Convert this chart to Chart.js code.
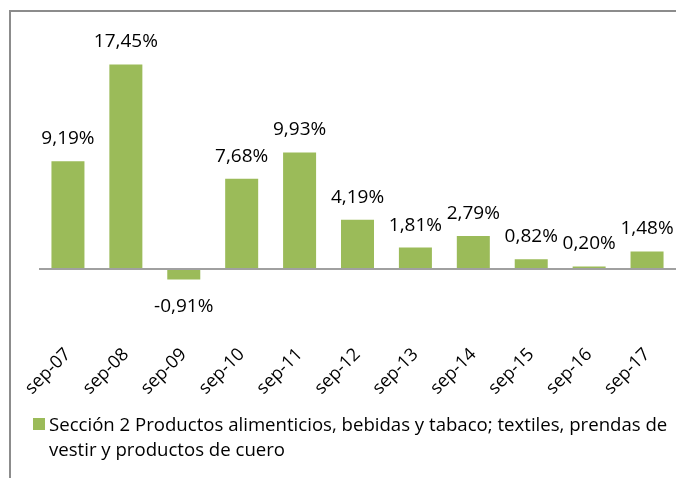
<!DOCTYPE html>
<html>
<head>
<meta charset="utf-8">
<script src="https://cdn.jsdelivr.net/npm/chart.js@4"></script>
<style>
  html, body { margin: 0; padding: 0; background: #fff; }
  #wrap { width: 676px; height: 478px; position: relative; }
</style>
</head>
<body>
<div id="wrap"><canvas id="chart"></canvas></div>
<script>
const categories = ["sep-07", "sep-08", "sep-09", "sep-10", "sep-11", "sep-12", "sep-13", "sep-14", "sep-15", "sep-16", "sep-17"];
const values = [9.19, 17.45, -0.91, 7.68, 9.93, 4.19, 1.81, 2.79, 0.82, 0.20, 1.48];
const legendLines = [
  "Sección 2 Productos alimenticios, bebidas y tabaco; textiles, prendas de",
  "vestir y productos de cuero"
];

const green = "#9bbb59";
const fontFamily = "'Open Sans', sans-serif";

// etiquetas, línea de cero, leyenda y marco
const extras = {
  id: "extras",
  afterDraw(chart) {
    const ctx = chart.ctx;
    const y = chart.scales.y;
    const area = chart.chartArea;

    // marco gris
    ctx.save();
    ctx.fillStyle = "#8c8c8c";
    ctx.fillRect(9, 10, 2, 468);
    ctx.fillRect(9, 10, 667, 2);

    // línea de cero
    const y0 = Math.round(y.getPixelForValue(0));
    ctx.fillStyle = "#a0a0a0";
    ctx.fillRect(area.left, y0 - 1, area.right - area.left, 2);

    // etiquetas de datos
    ctx.fillStyle = "#000";
    ctx.font = "19px " + fontFamily;
    ctx.textAlign = "center";
    ctx.textBaseline = "alphabetic";
    chart.getDatasetMeta(0).data.forEach((bar, i) => {
      const v = values[i];
      const txt = v.toFixed(2).replace(".", ",") + "%";
      if (v >= 0) ctx.fillText(txt, bar.x, bar.y - 17);
      else ctx.fillText(txt, bar.x, bar.y + 33);
    });

    // leyenda
    ctx.fillStyle = green;
    ctx.fillRect(33, 418, 12, 12);
    ctx.fillStyle = "#000";
    ctx.textAlign = "left";
    ctx.font = "18.6px " + fontFamily;
    ctx.fillText(legendLines[0], 49, 431);
    ctx.fillText(legendLines[1], 49, 456);
    ctx.restore();
  }
};

new Chart(document.getElementById("chart"), {
  type: "bar",
  data: {
    labels: categories,
    datasets: [{
      label: legendLines.join(" "),
      data: values,
      backgroundColor: green,
      barPercentage: 0.57,
      categoryPercentage: 1
    }]
  },
  options: {
    responsive: true,
    maintainAspectRatio: false,
    animation: false,
    layout: { padding: { top: 58, left: 39, right: 0, bottom: 77 } },
    plugins: {
      legend: { display: false },
      tooltip: { enabled: false }
    },
    scales: {
      x: {
        grid: { display: false, drawTicks: false },
        border: { display: false },
        ticks: {
          color: "#000",
          font: { family: fontFamily, size: 18 },
          minRotation: 45,
          maxRotation: 45,
          padding: 5
        },
        afterFit(scale) { scale.height = 62; }
      },
      y: {
        display: false,
        min: -6,
        max: 18
      }
    }
  },
  plugins: [extras]
});
</script>
</body>
</html>
